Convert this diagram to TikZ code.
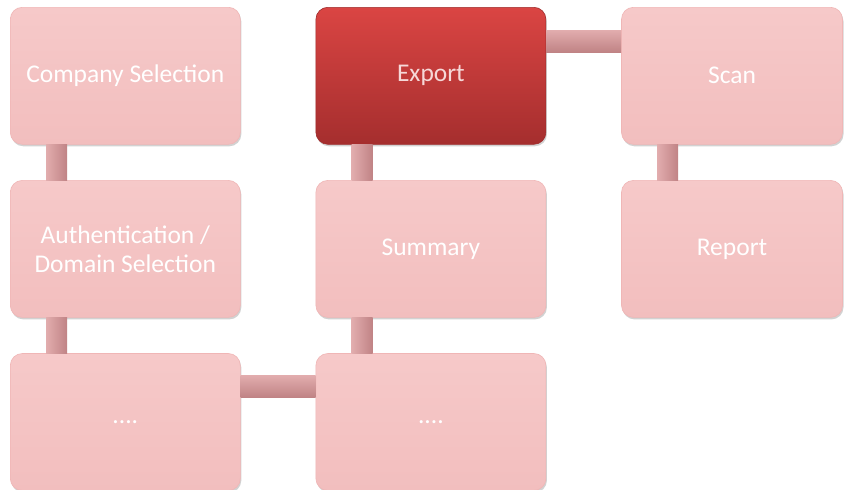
\documentclass[tikz,border=0pt]{standalone}
\usepackage{fontspec}
\setmainfont{Carlito}
\usepackage{xcolor}
\usetikzlibrary{positioning,shadows}
\definecolor{pinktop}{HTML}{F6C9C9}
\definecolor{pinkbot}{HTML}{F2BEBE}
\definecolor{pinkedge}{HTML}{F0B6B6}
\definecolor{redtop}{HTML}{DA4543}
\definecolor{redbot}{HTML}{A52E2E}
\definecolor{rededge}{HTML}{9E2C2C}
\definecolor{redtext}{HTML}{F6D8D8}
\definecolor{tubelight}{HTML}{E2ADAE}
\definecolor{tubedark}{HTML}{C08385}

\begin{document}
\begin{tikzpicture}[x=1pt, y=-1pt,
  stage/.style={rectangle, rounded corners=12pt, minimum width=230pt, minimum height=137pt,
    top color=pinktop, bottom color=pinkbot, draw=pinkedge, line width=0.6pt,
    text=white, font=\fontsize{25.5}{29}\selectfont, align=center,
    drop shadow={opacity=0.35, shadow xshift=1pt, shadow yshift=-2pt}},
  active/.style={stage, top color=redtop, bottom color=redbot, draw=rededge, text=redtext},
  vtube/.style={left color=tubelight, right color=tubedark},
  htube/.style={top color=tubelight, bottom color=tubedark}]
  \useasboundingbox[fill=white] (0,0) rectangle (844,490);
  % top row
  \node[stage, anchor=north west] (comp) at (10,7) {Company Selection};
  \node[active, right=75pt of comp] (exp) {Export};
  \node[stage, right=75pt of exp, minimum width=221pt] (scan) {Scan};
  % middle row
  \node[stage, below=35.5pt of comp] (auth) {Authentication /\\Domain Selection};
  \node[stage, below=35.5pt of exp] (summ) {Summary};
  \node[stage, below=35.5pt of scan, minimum width=221pt] (rep) {Report};
  % bottom row
  \node[stage, below=35.5pt of auth] (dotsA) {....};
  \node[stage, below=35.5pt of summ] (dotsB) {....};
  % connectors
  \foreach \a/\b in {comp/auth, auth/dotsA, exp/summ, summ/dotsB, scan/rep}
    \shade[vtube] ([xshift=36pt]\a.south west) rectangle ([xshift=57pt]\b.north west);
  \shade[htube] ([yshift=-23pt]exp.north east) rectangle ([yshift=-45pt]scan.north west);
  \shade[htube] ([yshift=-22pt]dotsA.north east) rectangle ([yshift=-44pt]dotsB.north west);
\end{tikzpicture}
\end{document}
